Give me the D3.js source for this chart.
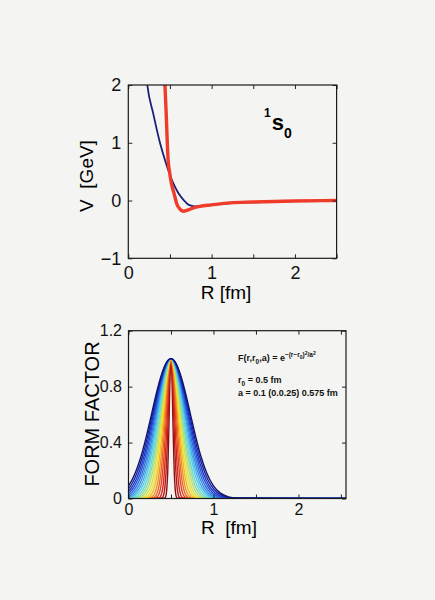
<!DOCTYPE html>
<meta charset="utf-8">
<style>
body { margin: 0; background: #f4f4f2; }
svg { display: block; font-family: "Liberation Sans", Arial, sans-serif; }
text { white-space: pre; }
</style>
<svg width="435" height="600"></svg>
<script src="https://d3js.org/d3.v7.min.js"></script>
<script>

// upper panel: 1S0 potential, two models
var blueR = [0.20, 0.228, 0.30, 0.38, 0.44, 0.49, 0.53, 0.60, 0.67, 0.72, 0.80, 0.90, 1.0, 1.25, 1.5, 2.0, 2.5];
var blueV = [2.4, 2.0, 1.5, 1.0, 0.7, 0.48, 0.33, 0.13, 0.0, -0.07, -0.10, -0.09, -0.07, -0.045, -0.03, -0.01, 0];
var redR = [0.43, 0.44, 0.455, 0.468, 0.478, 0.495, 0.51, 0.53, 0.55, 0.58, 0.62, 0.66, 0.72, 0.80, 0.86, 1.0, 1.22, 1.5, 2.0, 2.5];
var redV = [2.3, 2.0, 1.5, 1.0, 0.7, 0.5, 0.35, 0.22, 0.12, -0.05, -0.15, -0.185, -0.16, -0.12, -0.10, -0.075, -0.04, -0.025, -0.008, 0];

var potXTicks = [0, 0.5, 1, 1.5, 2, 2.5];
var potYTicks = [-1, 0, 1, 2];

// lower panel: gaussian form factors, centre r0, half widths at each level
var r0 = 0.5;
var levels = [1, 0.96, 0.88, 0.75, 0.6, 0.45, 0.3, 0.18, 0.09, 0.04, 0.012, 0.002];
var halfWidths = [
  [0.006, 0.011, 0.016, 0.021, 0.027, 0.033, 0.039, 0.047, 0.054, 0.063, 0.075],
  [0.009, 0.016, 0.024, 0.032, 0.040, 0.049, 0.059, 0.070, 0.081, 0.095, 0.112],
  [0.012, 0.021, 0.032, 0.043, 0.054, 0.066, 0.079, 0.093, 0.108, 0.126, 0.150],
  [0.015, 0.027, 0.041, 0.054, 0.068, 0.083, 0.100, 0.118, 0.136, 0.160, 0.189],
  [0.018, 0.033, 0.049, 0.065, 0.081, 0.100, 0.119, 0.141, 0.163, 0.191, 0.227],
  [0.021, 0.038, 0.057, 0.076, 0.095, 0.116, 0.139, 0.164, 0.190, 0.223, 0.264],
  [0.025, 0.044, 0.065, 0.087, 0.109, 0.134, 0.160, 0.189, 0.219, 0.257, 0.304],
  [0.028, 0.049, 0.073, 0.098, 0.122, 0.150, 0.179, 0.213, 0.246, 0.288, 0.342],
  [0.031, 0.054, 0.082, 0.109, 0.136, 0.167, 0.199, 0.236, 0.273, 0.320, 0.379],
  [0.034, 0.060, 0.090, 0.120, 0.150, 0.184, 0.220, 0.261, 0.301, 0.353, 0.419],
  [0.037, 0.065, 0.098, 0.131, 0.164, 0.201, 0.240, 0.284, 0.328, 0.385, 0.456],
  [0.040, 0.071, 0.106, 0.142, 0.177, 0.217, 0.259, 0.307, 0.355, 0.416, 0.494],
  [0.043, 0.077, 0.115, 0.153, 0.191, 0.235, 0.280, 0.332, 0.384, 0.450, 0.533],
  [0.046, 0.082, 0.123, 0.164, 0.205, 0.251, 0.300, 0.355, 0.411, 0.482, 0.571],
  [0.049, 0.087, 0.131, 0.174, 0.218, 0.268, 0.320, 0.379, 0.438, 0.513, 0.608],
  [0.053, 0.093, 0.139, 0.186, 0.232, 0.285, 0.340, 0.403, 0.466, 0.547, 0.648],
  [0.056, 0.098, 0.148, 0.197, 0.246, 0.302, 0.360, 0.427, 0.493, 0.578, 0.686],
  [0.059, 0.104, 0.156, 0.207, 0.259, 0.318, 0.380, 0.450, 0.520, 0.610, 0.723],
  [0.062, 0.109, 0.164, 0.219, 0.273, 0.336, 0.401, 0.475, 0.549, 0.644, 0.763],
  [0.065, 0.115, 0.173, 0.230, 0.288, 0.353, 0.422, 0.500, 0.578, 0.677, 0.803]
];

var ffXTicks = [0, 0.5, 1, 1.5, 2, 2.5];
var ffYTicks = [0, 0.4, 0.8, 1.2];

var svg = d3.select("svg");

// ---------- upper panel
var x1 = d3.scaleLinear().domain([0, 2.5]).range([128.3, 336.6]),
    y1 = d3.scaleLinear().domain([-1, 2]).range([258.3, 85]);

svg.append("clipPath").attr("id", "clip1")
  .append("rect").attr("x", 128.3).attr("y", 85).attr("width", 208.3).attr("height", 173.3);

var line1 = d3.line()
    .x(function(d) { return x1(d[0]); })
    .y(function(d) { return y1(d[1]); })
    .curve(d3.curveMonotoneX);

var g1 = svg.append("g").attr("clip-path", "url(#clip1)");
g1.append("path")
    .datum(d3.zip(blueR, blueV))
    .attr("fill", "none").attr("stroke", "#1c1f78").attr("stroke-width", 1.8)
    .attr("d", line1);
g1.append("path")
    .datum(d3.zip(redR, redV))
    .attr("fill", "none").attr("stroke", "#ef3b2a").attr("stroke-width", 3.4)
    .attr("stroke-linejoin", "round")
    .attr("d", line1);

drawAxes(x1, y1, potXTicks, potYTicks, 18, 8, 7,
  function(d) { return d % 1 ? "" : d; },
  function(d) { return d < 0 ? "\u2212" + (-d) : d; });

svg.append("text").attr("x", 226).attr("y", 299)
    .attr("text-anchor", "middle").attr("font-size", 19).text("R [fm]");
svg.append("text").attr("transform", "translate(93,176) rotate(-90)")
    .attr("text-anchor", "middle").attr("font-size", 19).text("V  [GeV]");

var lab = svg.append("text").attr("font-weight", "bold").attr("x", 264).attr("y", 117);
lab.append("tspan").attr("font-size", 12).text("1");
lab.append("tspan").attr("font-size", 22).attr("dy", 13).attr("dx", 1).text("s");
lab.append("tspan").attr("font-size", 14).attr("dy", 8).text("0");

// ---------- lower panel
var x2 = d3.scaleLinear().domain([0, 2.56]).range([128.5, 346]),
    y2 = d3.scaleLinear().domain([0, 1.2]).range([498.5, 330.7]);

var jet = d3.scaleLinear()
    .domain([0, 0.125, 0.375, 0.625, 0.875, 1])
    .range(["#8a1010", "#e8281e", "#f5e62a", "#4fd3ee", "#1f3fd8", "#101470"]);

svg.append("clipPath").attr("id", "clip2")
  .append("rect").attr("x", 128.5).attr("y", 330.7).attr("width", 217.5).attr("height", 167.8);

var line2 = d3.line()
    .x(function(d) { return x2(d[0]); })
    .y(function(d) { return y2(d[1]); })
    .curve(d3.curveMonotoneX);

function profile(w) {
  var pts = [[-0.7, 0]];
  for (var i = w.length - 1; i >= 0; i--) pts.push([r0 - w[i], levels[i + 1]]);
  pts.push([r0, levels[0]]);
  for (var j = 0; j < w.length; j++) pts.push([r0 + w[j], levels[j + 1]]);
  pts.push([3, 0]);
  return pts;
}

svg.append("g").attr("clip-path", "url(#clip2)")
  .selectAll("path")
  .data(halfWidths)
  .enter().append("path")
    .attr("fill", "none")
    .attr("stroke", function(d, i) { return jet(i / (halfWidths.length - 1)); })
    .attr("stroke-width", 1.4)
    .attr("d", function(d) { return line2(profile(d)); });

drawAxes(x2, y2, ffXTicks, ffYTicks, 16, 5, 6.5,
  function(d) { return d % 1 ? "" : d; },
  function(d) { return d === 0 ? "0" : d3.format(".1f")(d); });

svg.append("text").attr("x", 229).attr("y", 534)
    .attr("text-anchor", "middle").attr("font-size", 19).text("R  [fm]");
svg.append("text").attr("transform", "translate(99,414) rotate(-90)")
    .attr("text-anchor", "middle").attr("font-size", 20).text("FORM FACTOR");

var note = svg.append("g").attr("font-size", 9).attr("font-weight", "bold").attr("fill", "#111");
var t1 = note.append("text").attr("x", 238).attr("y", 361);
t1.append("tspan").text("F(r,r");
t1.append("tspan").attr("font-size", 6.5).attr("dy", 2.5).text("0");
t1.append("tspan").attr("dy", -2.5).text(",a) = e");
t1.append("tspan").attr("font-size", 6.5).attr("dy", -4).text("\u2212(r\u2212r");
t1.append("tspan").attr("font-size", 5).attr("dy", 2).text("0");
t1.append("tspan").attr("font-size", 6.5).attr("dy", -2).text(")");
t1.append("tspan").attr("font-size", 5).attr("dy", -2.5).text("2");
t1.append("tspan").attr("font-size", 6.5).attr("dy", 2.5).text("/a");
t1.append("tspan").attr("font-size", 5).attr("dy", -2.5).text("2");
var t2 = note.append("text").attr("x", 238).attr("y", 383);
t2.append("tspan").text("r");
t2.append("tspan").attr("font-size", 6.5).attr("dy", 2.5).text("0");
t2.append("tspan").attr("dy", -2.5).text(" = 0.5 fm");
note.append("text").attr("x", 238).attr("y", 396).text("a = 0.1 (0.0.25) 0.575 fm");

// box with inward ticks on all four sides, labels left and bottom
function drawAxes(x, y, xt, yt, fs, xpad, ypad, xfmt, yfmt) {
  var x0 = x.range()[0], xr = x.range()[1], yb = y.range()[0], ytop = y.range()[1];
  var ax = svg.append("g");
  ax.append("g").attr("transform", "translate(0," + yb + ")")
    .call(d3.axisBottom(x).tickValues(xt).tickSizeInner(-4).tickSizeOuter(0).tickPadding(xpad).tickFormat(xfmt));
  ax.append("g").attr("transform", "translate(0," + ytop + ")")
    .call(d3.axisTop(x).tickValues(xt).tickSizeInner(-4).tickSizeOuter(0).tickFormat(""));
  ax.append("g").attr("transform", "translate(" + x0 + ",0)")
    .call(d3.axisLeft(y).tickValues(yt).tickSizeInner(-4).tickSizeOuter(0).tickPadding(ypad).tickFormat(yfmt));
  ax.append("g").attr("transform", "translate(" + xr + ",0)")
    .call(d3.axisRight(y).tickValues(yt).tickSizeInner(-4).tickSizeOuter(0).tickFormat(""));
  ax.selectAll(".domain").remove();
  ax.selectAll("g").attr("font-family", null).attr("font-size", fs);
  ax.selectAll("text").attr("fill", "#111");
  ax.selectAll("line").attr("stroke", "#222");
  ax.append("rect").attr("x", x0).attr("y", ytop).attr("width", xr - x0).attr("height", yb - ytop)
    .attr("fill", "none").attr("stroke", "#1a1a1a").attr("stroke-width", 1.2);
}

</script>
